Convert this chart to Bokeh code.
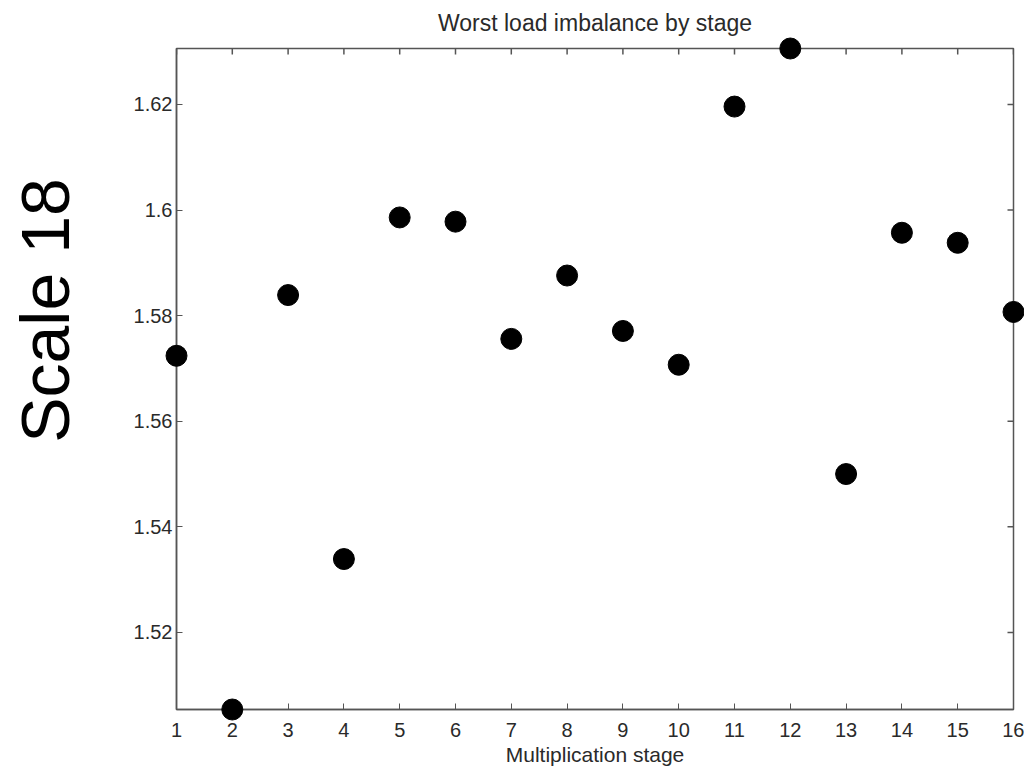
import math
from bokeh.plotting import figure
from bokeh.models import (Range1d, FixedTicker, LinearAxis,
                          CustomJSTickFormatter, ColumnDataSource)
from bokeh.core.properties import value
from bokeh.embed import file_html
from bokeh.resources import INLINE

stages = [1, 2, 3, 4, 5, 6, 7, 8, 9, 10, 11, 12, 13, 14, 15, 16]
imbalance = [1.5724, 1.5054, 1.5839, 1.5339, 1.5986, 1.5978, 1.5756, 1.5876,
             1.5771, 1.5707, 1.6196, 1.6306, 1.5500, 1.5957, 1.5938, 1.5807]
y_ticks = [1.52, 1.54, 1.56, 1.58, 1.60, 1.62]
title_text = "Worst load imbalance by stage"
x_label = "Multiplication stage"
side_label = "Scale 18"

FONT = "Liberation Sans"
AX = "#555555"
TXT = "#2a2a2a"
FL, FR, FT, FB = 176, 1013, 48, 709   # frame edges in page pixels

x0, x1 = min(stages), max(stages)
y0, y1 = min(imbalance), max(imbalance)

p = figure(width=1024, height=768, output_backend="svg", toolbar_location=None,
           x_range=Range1d(x0, x1), y_range=Range1d(y0, y1),
           x_axis_location=None, y_axis_location=None,
           min_border_left=FL, min_border_right=1024 - FR,
           min_border_top=FT, min_border_bottom=768 - FB)
p.outline_line_color = AX
p.outline_line_width = 1.5
p.grid.visible = False
p.background_fill_color = "white"
p.border_fill_color = "white"

fmt = CustomJSTickFormatter(code="return String(Number(tick.toFixed(2)));")

def mk_axis(ticks, standoff):
    ax = LinearAxis(ticker=FixedTicker(ticks=ticks))
    ax.axis_line_color = AX
    ax.axis_line_width = 1.5
    ax.major_tick_line_color = AX
    ax.major_tick_in = 6
    ax.major_tick_out = 0
    ax.minor_tick_line_color = None
    ax.major_label_text_font = FONT
    ax.major_label_text_font_size = "20px"
    ax.major_label_text_color = TXT
    ax.major_label_standoff = standoff
    return ax

xb = mk_axis(stages, 13)
yl = mk_axis(y_ticks, 4)
yl.formatter = fmt
p.add_layout(xb, "below")
p.add_layout(yl, "left")

# Mirrored inward ticks on top and right edges (outer half clipped by the frame)
p.scatter(x=stages, y=[y1] * len(stages), marker="dash", size=12, angle=math.pi / 2,
          line_color=AX, line_width=1.5)
p.scatter(x=[x1] * len(y_ticks), y=y_ticks, marker="dash", size=12,
          line_color=AX, line_width=1.5)

def no_clip(rend):
    rend.level = "overlay"
    if "clip" in rend.properties():
        rend.clip = False

src = ColumnDataSource(dict(x=stages, y=imbalance))
r = p.scatter("x", "y", source=src, size=21, fill_color="black", line_color="black")
no_clip(r)

# Texts outside the frame: anchored at frame corners, shifted in screen pixels
def add_text(x, y, txt, xoff, yoff, size, color, angle=0.0):
    t = p.text(x=[x], y=[y], text=[txt], x_offset=xoff, y_offset=yoff,
               text_font=value(FONT), text_font_size=size, text_color=color,
               text_align="center", text_baseline="middle", angle=angle)
    no_clip(t)
    return t

xm = (x0 + x1) / 2
add_text(xm, y1, title_text, 0, -(FT - 22), "23px", TXT)
add_text(xm, y0, x_label, 0, 754 - FB, "21px", TXT)
add_text(x0, y0, side_label, 44 - FL, 310 - FB, "68px", "black", math.pi / 2)

open("out.html", "w").write(file_html(p, INLINE))
